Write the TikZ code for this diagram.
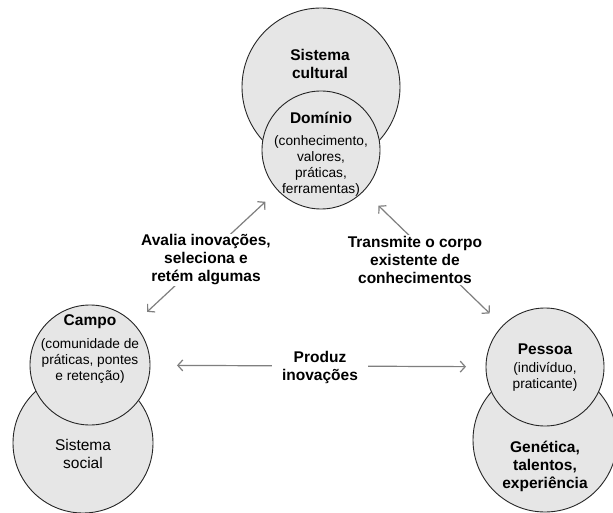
\documentclass[tikz,border=0pt]{standalone}
\usepackage{fontspec}
\setmainfont{Liberation Sans}
\usetikzlibrary{arrows.meta}
\definecolor{discfill}{HTML}{E6E6E6}
\definecolor{discline}{HTML}{262626}
\definecolor{arrowgray}{HTML}{7F7F7F}
\begin{document}
\begin{tikzpicture}[x=1pt,y=-1pt,
  >={Straight Barb[length=5pt,width=11pt]},
  disc/.style={circle, draw=discline, line width=0.9pt, fill=discfill,
    inner sep=0pt, outer sep=0pt, minimum size=#1},
  title/.style={font=\fontsize{15.5}{18}\selectfont\bfseries, align=center, inner sep=0pt},
  plain/.style={font=\fontsize{15.5}{18}\selectfont, align=center, inner sep=0pt},
  note/.style={font=\fontsize{13.7}{16}\selectfont, align=center, inner sep=0pt},
  flow/.style={draw=arrowgray, line width=1.2pt, <->},
  tag/.style={title, fill=white, inner ysep=1pt, inner xsep=2pt}]

% canvas
\fill[white] (0,0) rectangle (613,513);
\useasboundingbox (0,0) rectangle (613,513);

% circles: outer system first, then the overlapping inner circle
\node[disc=158pt] (cult)   at (321,87)  {};
\node[disc=118pt] (dom)    at (321,150) {};
\node[disc=140pt] (social) at (83,443)  {};
\node[disc=120pt] (campo)  at (90,365)  {};
\node[disc=144pt] (gen)    at (545,440) {};
\node[disc=118pt] (pessoa) at (545,367) {};

% circle texts
\node[title] (cultT) at (320,64) {Sistema\\cultural};
\node[title] (domT)  at (321,118) {Domínio};
\node[note]  (domN)  at (321,166) {(conhecimento,\\valores,\\práticas,\\ferramentas)};
\node[title] (campoT) at (90,322) {Campo};
\node[note]  (campoN) at (90,361) {(comunidade de\\práticas, pontes\\e retenção)};
\node[plain] (socialT) at (83,454) {Sistema\\social};
\node[title] (pessoaT) at (545,349) {Pessoa};
\node[note]  (pessoaN) at (545,377) {(indivíduo,\\praticante)};
\node[title] (genT) at (545,466) {Genética,\\talentos,\\experiência};

% connectors
\draw[flow, shorten <=17pt, shorten >=18pt] (dom) -- (campo);
\draw[flow, shorten <=21pt, shorten >=18pt] (dom) -- (pessoa);
\draw[flow, shorten <=27pt, shorten >=20pt] (campo) -- (pessoa);

% connector labels
\node[tag] (avalia) at (206,260) {Avalia inovações,\\seleciona e\\retém algumas};
\node[tag] (transmite) at (415,260) {Transmite o corpo\\existente de\\conhecimentos};
\node[tag, inner xsep=10pt] (produz) at (320,367) {Produz\\inovações};
\end{tikzpicture}
\end{document}
